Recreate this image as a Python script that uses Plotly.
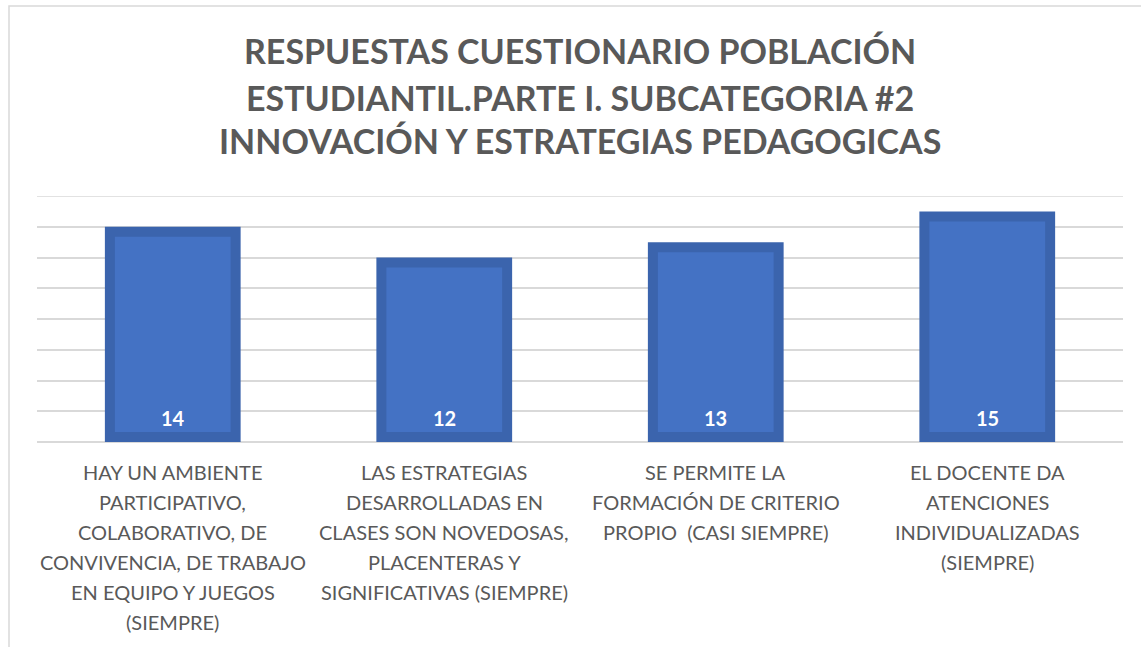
import plotly.graph_objects as go

title_lines = [
    "RESPUESTAS CUESTIONARIO POBLACIÓN",
    "ESTUDIANTIL.PARTE I. SUBCATEGORIA #2",
    "INNOVACIÓN Y ESTRATEGIAS PEDAGOGICAS",
]

category_lines = [
    ["HAY UN AMBIENTE", "PARTICIPATIVO,", "COLABORATIVO, DE", "CONVIVENCIA, DE TRABAJO",
     "EN EQUIPO Y JUEGOS", "(SIEMPRE)"],
    ["LAS ESTRATEGIAS", "DESARROLLADAS EN", "CLASES SON NOVEDOSAS,", "PLACENTERAS Y",
     "SIGNIFICATIVAS (SIEMPRE)"],
    ["SE PERMITE LA", "FORMACIÓN DE CRITERIO", "PROPIO  (CASI SIEMPRE)"],
    ["EL DOCENTE DA", "ATENCIONES", "INDIVIDUALIZADAS", "(SIEMPRE)"],
]
categories = [" ".join(c) for c in category_lines]
values = [14, 12, 13, 15]

y_max = 16
y_step = 2

W, H = 1141, 647
L, R, T, B = 37, 18, 196, 205
pw, ph = W - L - R, H - T - B

border_px = 10
b = border_px * y_max / ph
slot = pw / len(categories)

fig = go.Figure()
fig.add_trace(go.Bar(
    x=categories, y=values,
    width=0.5,
    marker=dict(color="#3b64ad", line=dict(width=0)),
    hoverinfo="skip",
))
fig.add_trace(go.Bar(
    x=categories, y=[v - 2 * b for v in values], base=b,
    width=(0.5 * slot - 2 * border_px) / slot,
    marker=dict(color="#4472c4", line=dict(width=0)),
    hoverinfo="skip",
))

annotations = []
for i, line in enumerate(title_lines):
    annotations.append(dict(
        text=f"<b>{line}</b>", xref="paper", yref="paper", x=0.5, y=1,
        yshift=(T - [50, 97, 140][i]), yanchor="middle", xanchor="center",
        showarrow=False, font=dict(family="Lato", size=34, color="#595959", weight=900),
    ))
for cat, v in zip(categories, values):
    annotations.append(dict(
        text=f"<b>{v}</b>", xref="x", yref="y", x=cat, y=0,
        yshift=24, yanchor="middle", xanchor="center", showarrow=False,
        font=dict(family="Lato", size=20, color="white"),
    ))
line_centers = [472, 502, 532, 562, 592, 622]
for cat, lines in zip(categories, category_lines):
    for j, ln in enumerate(lines):
        annotations.append(dict(
            text=ln, xref="x", yref="paper", x=cat, y=0,
            yshift=-(line_centers[j] - (H - B)), yanchor="middle", xanchor="center",
            showarrow=False, font=dict(family="Lato", size=20, color="#595959"),
        ))

fig.update_layout(
    width=W, height=H,
    margin=dict(l=L, r=R, t=T, b=B, pad=0),
    paper_bgcolor="white", plot_bgcolor="white",
    showlegend=False,
    barmode="overlay",
    xaxis=dict(showticklabels=False, showgrid=False, zeroline=False, showline=False, ticks=""),
    yaxis=dict(range=[0, y_max], dtick=y_step, showticklabels=False, showgrid=True,
               gridcolor="#d9d9d9", gridwidth=1.5, zeroline=True, zerolinecolor="#d9d9d9",
               zerolinewidth=1.5, showline=False, ticks=""),
    annotations=annotations,
    shapes=[
        dict(type="rect", xref="paper", yref="paper",
             x0=(9 - L) / pw, x1=1 + (R + 20) / pw,
             y0=-(B + 20) / ph, y1=1 + (T - 6) / ph,
             line=dict(color="#d9d9d9", width=1.5), fillcolor="rgba(0,0,0,0)", layer="below"),
        dict(type="line", xref="paper", yref="y", x0=0, x1=1, y0=y_max, y1=y_max,
             line=dict(color="#d9d9d9", width=1.5), layer="below"),
    ],
)

fig.write_html("out.html", config={"displayModeBar": False},
               post_script="document.body.style.margin='0';document.body.style.overflow='hidden';")
